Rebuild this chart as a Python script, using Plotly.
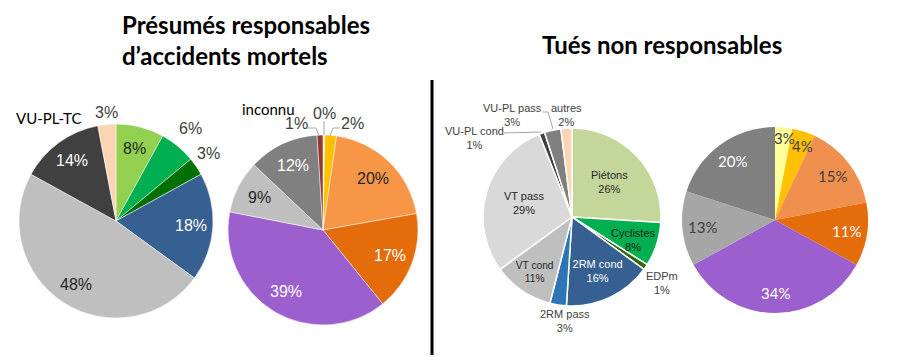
import math
import plotly.graph_objects as go

W, H = 897, 362

# ---- data ----
p1_labels = ["VL a", "VL b", "VL c", "2RM", "VT", "VU-PL-TC", "autres"]
p1_values = [8, 6, 3, 18, 48, 14, 3]
p1_text = ["8%", "6%", "3%", "18%", "48%", "14%", "3%"]
p1_colors = ["#92D050", "#00B050", "#007000", "#376092", "#BFBFBF", "#404040", "#FBD4B4"]

p2_labels = ["a", "b", "c", "d", "e", "f", "g", "inconnu"]
p2_values = [0.3, 2, 20, 17, 39, 9, 12, 1]
p2_text = ["0%", "2%", "20%", "17%", "39%", "9%", "12%", "1%"]
p2_colors = ["#FFFF99", "#FFC000", "#F79646", "#E46C0A", "#9C5FCE", "#BFBFBF", "#808080", "#953735"]

p3_labels = ["Piétons", "Cyclistes", "EDPm", "2RM cond", "2RM pass", "VT cond", "VT pass",
             "VU-PL cond", "VU-PL pass", "autres"]
p3_values = [26, 8, 1, 16, 3, 11, 29, 1, 3, 2]
p3_text = ["26%", "8%", "1%", "16%", "3%", "11%", "29%", "1%", "3%", "2%"]
p3_colors = ["#C4D79B", "#00B050", "#2E6B00", "#376092", "#2E75B6", "#BFBFBF", "#D9D9D9",
             "#404040", "#808080", "#FBD4B4"]

p4_labels = ["a", "b", "c", "d", "e", "f", "g"]
p4_values = [3, 4, 15, 11, 34, 13, 20]
p4_text = ["3%", "4%", "15%", "11%", "34%", "13%", "20%"]
p4_colors = ["#FFFF99", "#FFC000", "#F0904F", "#E46C0A", "#9C5FCE", "#A6A6A6", "#808080"]

# pie geometry (pixels): centre x, centre y, radius
P1 = (116, 221, 97)
P2 = (323, 230, 95)
P3 = (572, 217, 89)
P4 = (775, 220, 93)


def dom(g):
    cx, cy, r = g
    return dict(x=[(cx - r) / W, (cx + r) / W], y=[(H - (cy + r)) / H, (H - (cy - r)) / H])


def px(x):
    return x / W


def py(y):
    return 1 - y / H


def label_xy(values, i, g, f):
    cx, cy, r = g
    tot = sum(values)
    mid = (sum(values[:i]) + values[i] / 2) / tot * 2 * math.pi
    return cx + f * r * math.sin(mid), cy - f * r * math.cos(mid)


def pie(labels, values, colors, g, border):
    return go.Pie(labels=labels, values=values, textinfo="none",
                  marker=dict(colors=colors, line=dict(color="white", width=border)),
                  sort=False, direction="clockwise", rotation=0,
                  domain=dom(g), showlegend=False, hoverinfo="skip")


fig = go.Figure()
fig.add_trace(pie(p1_labels, p1_values, p1_colors, P1, 0.5))
fig.add_trace(pie(p2_labels, p2_values, p2_colors, P2, 0.5))
fig.add_trace(go.Pie(
    labels=p3_labels, values=p3_values, text=p3_text,
    texttemplate="%{label}<br>%{text}",
    marker=dict(colors=p3_colors, line=dict(color="white", width=1.5)),
    sort=False, direction="clockwise", rotation=0,
    textposition=["inside", "none", "none", "inside", "none", "inside", "inside",
                  "none", "none", "none"],
    insidetextorientation="horizontal",
    insidetextfont=dict(family="Liberation Sans", size=11,
                        color=["#262626", "#262626", "#404040", "white", "#404040", "#262626",
                               "#262626", "#404040", "#404040", "#404040"]),
    domain=dom(P3), showlegend=False, hoverinfo="skip",
))
fig.add_trace(pie(p4_labels, p4_values, p4_colors, P4, 0))

annotations = [
    dict(x=px(120), y=py(25), text="<b>Présumés responsables</b>", xanchor="left",
         font=dict(family="Lato", size=24, color="black")),
    dict(x=px(120), y=py(55), text="<b>d’accidents mortels</b>", xanchor="left",
         font=dict(family="Lato", size=24, color="black")),
    dict(x=px(662), y=py(45), text="<b>Tués non responsables</b>",
         font=dict(family="Lato", size=24, color="black")),
    dict(x=px(48), y=py(118), text="VU-PL-TC", font=dict(family="Lato", size=15, color="black")),
    dict(x=px(268), y=py(109), text="inconnu", font=dict(family="Lato", size=15, color="black")),
]

D, Wt = "#262626", "white"
f16 = dict(family="Liberation Sans", size=16, color="#404040")
f11 = dict(family="Liberation Sans", size=11, color="#404040")
fl15 = dict(family="Lato", size=15, color="#404040")

# labels placed along each slice's mid-angle
inside = [
    (p1_values, p1_text, P1, 0.77, {0: D, 3: Wt, 4: D, 5: Wt}, "Liberation Sans", 16),
    (p2_values, p2_text, P2, 0.75, {2: D, 3: Wt, 4: Wt, 5: D, 6: Wt}, "Liberation Sans", 16),
    (p4_values, p4_text, P4, 0.78, {2: "#404040", 3: Wt, 4: Wt, 5: "#404040", 6: Wt}, "Lato", 15),
]
for vals, txt, g, f, cols, fam, sz in inside:
    for i, c in cols.items():
        x, y = label_xy(vals, i, g, f)
        annotations.append(dict(x=px(x), y=py(y), text=txt[i],
                                font=dict(family=fam, size=sz, color=c)))

# labels of small slices placed outside / overflowing
small = [
    (190, 129, p1_text[1], f16),
    (208, 153, p1_text[2], f16),
    (106, 112, p1_text[6], f16),
    (296, 123, p2_text[7], f16),
    (324, 113, p2_text[0], f16),
    (352, 123, p2_text[1], f16),
    (633, 240, p3_labels[1] + "<br>" + p3_text[1], dict(f11, color="#1a1a1a")),
    (662, 283, p3_labels[2] + "<br>" + p3_text[2], f11),
    (565, 321, p3_labels[4] + "<br>" + p3_text[4], f11),
    (474, 138, p3_labels[7] + "<br>" + p3_text[7], f11),
    (512, 115, p3_labels[8] + "<br>" + p3_text[8], f11),
    (566, 115, p3_labels[9] + "<br>" + p3_text[9], f11),
    (784, 138, p4_text[0], fl15),
    (802, 146, p4_text[1], fl15),
]
for x, y, t, f in small:
    annotations.append(dict(x=px(x), y=py(y), text=t, font=f))

for a in annotations:
    a.setdefault("xanchor", "center")
    a.update(xref="paper", yref="paper", showarrow=False, yanchor="middle")

lead = dict(color="#A6A6A6", width=1)


def path(pts):
    return "M " + " L ".join(f"{px(x)} {py(y)}" for x, y in pts)


shapes = [
    dict(type="line", x0=px(432), x1=px(432), y0=py(80), y1=py(355),
         line=dict(color="black", width=3)),
    # leader lines pie 2
    dict(type="path", path=path([(307, 128), (316, 128), (319, 136)]), line=lead),
    dict(type="path", path=path([(324, 121), (324, 135)]), line=lead),
    dict(type="path", path=path([(340, 128), (333, 128), (330, 136)]), line=lead),
    # leader lines pie 3
    dict(type="path", path=path([(504, 133), (541, 132)]), line=lead),
    dict(type="path", path=path([(543, 112), (548, 112), (553, 129)]), line=lead),
]
for s in shapes:
    s.update(xref="paper", yref="paper")

fig.update_layout(
    width=W, height=H, margin=dict(l=0, r=0, t=0, b=0),
    paper_bgcolor="white", plot_bgcolor="white",
    annotations=annotations, shapes=shapes,
)

fig.write_html("out.html", config={"displayModeBar": False},
               post_script="document.body.style.margin='0';")
